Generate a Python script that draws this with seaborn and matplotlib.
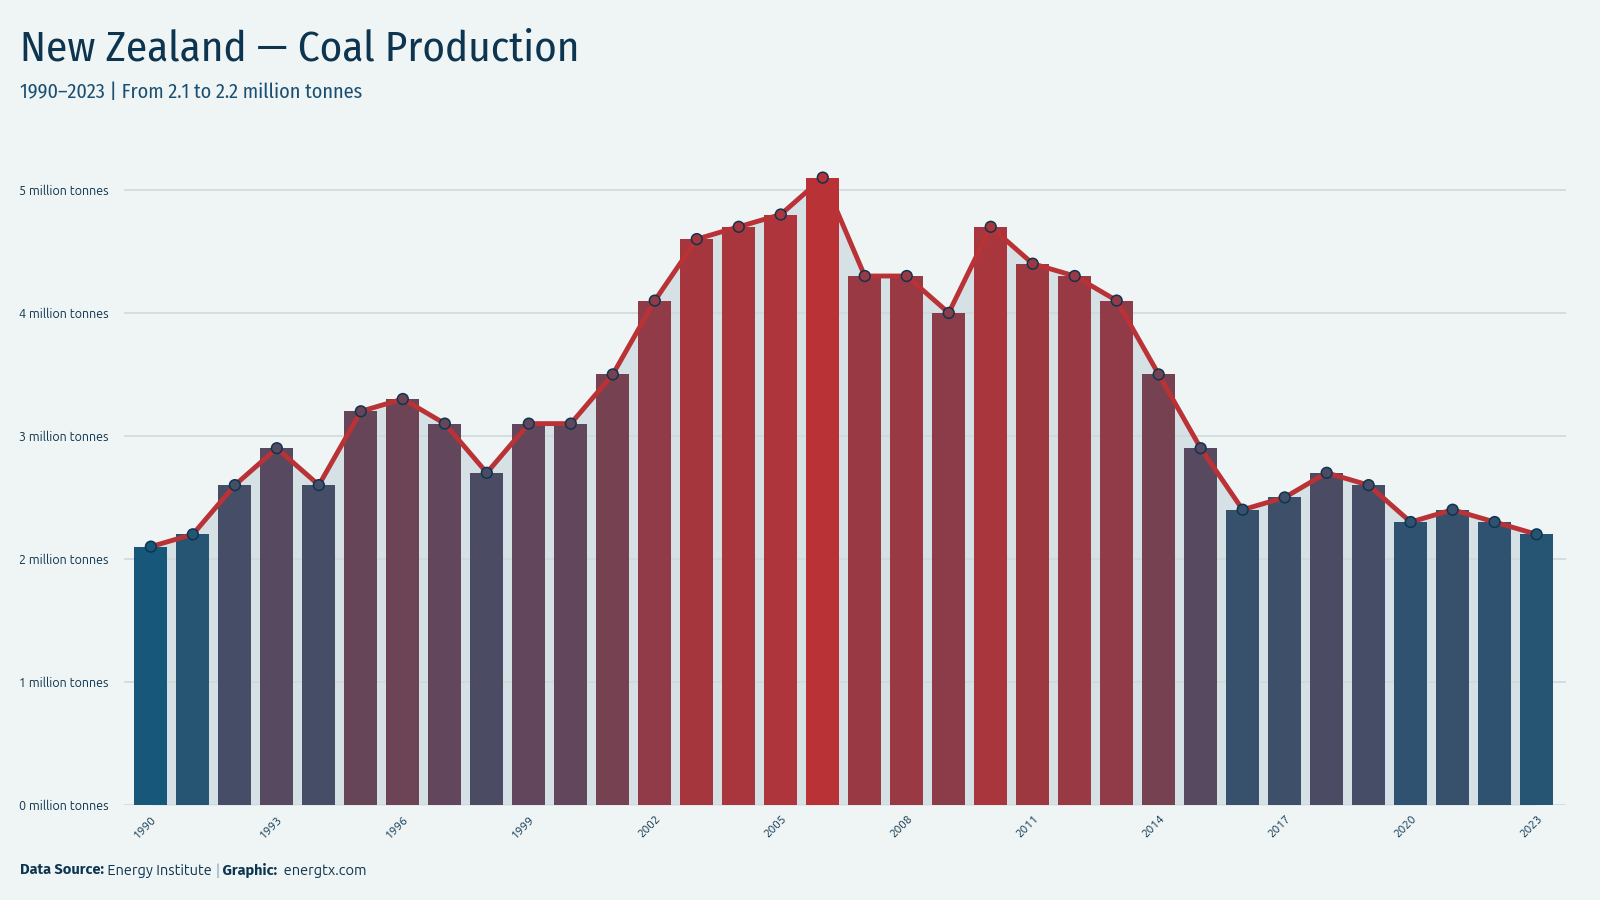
import numpy as np
import pandas as pd
import matplotlib
matplotlib.use('Agg')
import matplotlib.pyplot as plt
import matplotlib.colors as mcolors
import seaborn as sns

# data
years = list(range(1990, 2024))
production = [2.1, 2.2, 2.6, 2.9, 2.6, 3.2, 3.3, 3.1, 2.7, 3.1,
              3.1, 3.5, 4.1, 4.6, 4.7, 4.8, 5.1, 4.3, 4.3, 4.0,
              4.7, 4.4, 4.3, 4.1, 3.5, 2.9, 2.4, 2.5, 2.7, 2.6,
              2.3, 2.4, 2.3, 2.2]
tick_years = [1990, 1993, 1996, 1999, 2002, 2005, 2008, 2011, 2014, 2017, 2020, 2023]
y_ticks = [0, 1, 2, 3, 4, 5]

title = "New Zealand \u2014 Coal Production"
subtitle = "1990\u20132023 | From 2.1 to 2.2 million tonnes"

df = pd.DataFrame({'year': years, 'value': production})

BG = '#eff5f5'
NAVY = '#0d3550'
RED = '#b83236'

sns.set_theme(style='white')
plt.rcParams['font.family'] = ['Ubuntu', 'Open Sans', 'DejaVu Sans']
COND = ['Ubuntu Condensed', 'Fira Sans Condensed', 'Roboto Condensed', 'DejaVu Sans']
BOLD = ['Fira Sans', 'Open Sans', 'DejaVu Sans']

cmap = mcolors.LinearSegmentedColormap.from_list('nz', ['#17587a', RED])
norm = mcolors.PowerNorm(gamma=0.7, vmin=min(production), vmax=max(production))
bar_colors = [cmap(norm(v)) for v in production]

fig = plt.figure(figsize=(16, 9), dpi=100, facecolor=BG)
ax = fig.add_axes([0.0775, 0.1056, 0.901, 0.7244])
ax.set_facecolor(BG)

xpos = np.arange(len(years))

# area under the line
ax.fill_between(xpos, 0, df['value'], color='#d6e1e6', zorder=1, lw=0)
for t in y_ticks:
    ax.axhline(t, color='#cfd9dc', lw=1.2, zorder=1.5)

sns.barplot(data=df, x='year', y='value', hue='year', palette=bar_colors,
            legend=False, width=0.78, saturation=1, ax=ax, zorder=2,
            linewidth=0)

ax.plot(xpos, df['value'], color=RED, lw=3.5, zorder=3, solid_joinstyle='round')
ax.scatter(xpos, df['value'], c=bar_colors, s=60, edgecolors=NAVY,
           linewidths=1.1, zorder=4)

ax.set_xlim(-0.64, len(years) - 1 + 0.69)
ax.set_ylim(0, 5.3)
ax.set_yticks(y_ticks)
ax.set_yticklabels([f"{t} million tonnes" for t in y_ticks], fontsize=9, color=NAVY)
ax.set_xticks([years.index(y) for y in tick_years])
ax.set_xticklabels([str(y) for y in tick_years], fontsize=8.5, color=NAVY,
                   rotation=45, ha='right', rotation_mode='anchor')
ax.tick_params(axis='y', length=0, pad=11)
ax.tick_params(axis='x', length=0, pad=6)
ax.set_xlabel('')
ax.set_ylabel('')
for s in ax.spines.values():
    s.set_visible(False)

fig.text(0.0125, 0.946, title, fontsize=31, color=NAVY, va='center', ha='left', family=COND)
fig.text(0.0125, 0.897, subtitle, fontsize=14.5, color='#1a4f72', va='center', ha='left', family=COND)

# footer with bold parts
renderer = fig.canvas.get_renderer()
parts = [("Data Source:", BOLD, 'bold', NAVY), (" Energy Institute ", None, 'normal', NAVY),
         ("|", None, 'normal', '#7f96a6'), (" Graphic:", BOLD, 'bold', NAVY),
         ("  energtx.com", None, 'normal', NAVY)]
x = 0.0125
for txt, fam, wt, col in parts:
    kw = {'family': fam} if fam else {}
    t = fig.text(x, 0.033, txt, fontsize=10.5, fontweight=wt, color=col,
                 va='center', ha='left', **kw)
    bb = t.get_window_extent(renderer=renderer)
    x += bb.width / fig.bbox.width

fig.savefig('out.png', dpi=100, facecolor=BG)
